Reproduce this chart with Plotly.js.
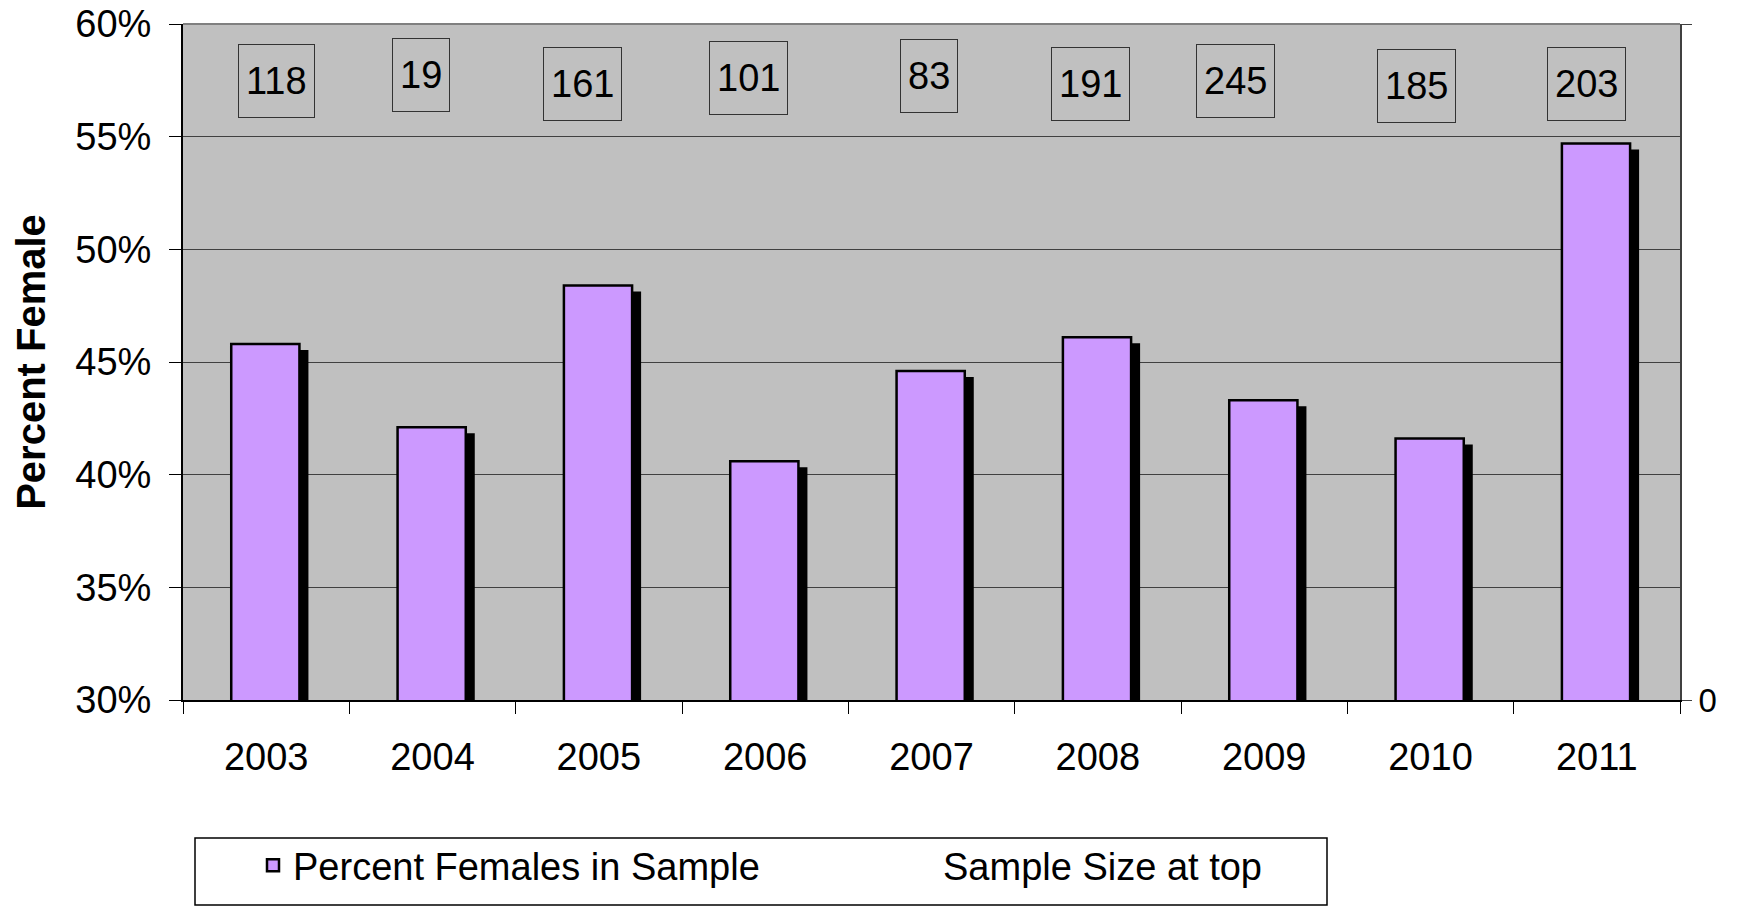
<!DOCTYPE html>
<html><head><meta charset="utf-8">
<script src="https://cdn.plot.ly/plotly-3.0.1.min.js"></script>
<style>html,body{margin:0;padding:0;background:#fff}#chart{width:1738px;height:906px}</style>
</head><body><div id="chart"></div>
<script>
const years = ['2003','2004','2005','2006','2007','2008','2009','2010','2011'];
const pctFemale = [45.8, 42.1, 48.4, 40.6, 44.6, 46.1, 43.3, 41.6, 54.7];
const sampleSizes = [118, 19, 161, 101, 83, 191, 245, 185, 203];
const seriesNames = ['Percent Females in Sample', 'Sample Size at top'];
const yAxisTitle = 'Percent Female';

// label box placement (pixels: shift from category centre, offset from plot top)
const labelShiftX = [10, -12, -16, -17, -3, -7, -29, -14, -10];
const labelShiftY = [-57, -51, -60, -54, -52, -60, -57, -62, -60];

const FONT = 'Liberation Sans, Arial, Helvetica, sans-serif';
const W = 1738, H = 906;
const M = {l: 183, r: 58, t: 24, b: 206};
const plotH = H - M.t - M.b, plotW = W - M.l - M.r;
const yRange = [30, 60];
const shadowDrop = 6 * (yRange[1] - yRange[0]) / plotH;
const barWidth = 0.41, barOffset = -0.21, shadowShift = 9 / (plotW / years.length);

const traces = [
  { type: 'bar', x: years, y: pctFemale.map(v => v - shadowDrop),
    width: barWidth, offset: barOffset + shadowShift,
    marker: {color: '#000000', line: {width: 0}},
    showlegend: false, hoverinfo: 'skip' },
  { type: 'bar', x: years, y: pctFemale, name: seriesNames[0],
    width: barWidth, offset: barOffset,
    marker: {color: '#CC99FF', line: {color: '#000000', width: 2.5}} },
  { type: 'scatter', mode: 'markers', x: years, y: sampleSizes, yaxis: 'y2',
    name: seriesNames[1], marker: {color: 'rgba(0,0,0,0)', size: 1},
    hoverinfo: 'skip' }
];

const annotations = sampleSizes.map((n, i) => ({
  x: i, xref: 'x', y: 1, yref: 'paper',
  xanchor: 'center', yanchor: 'middle',
  xshift: labelShiftX[i], yshift: labelShiftY[i],
  text: String(n), showarrow: false,
  font: {family: FONT, size: 38, color: '#000'},
  bgcolor: '#C0C0C0', bordercolor: '#333333', borderwidth: 1, borderpad: 7,
  height: 58
}));

const layout = {
  width: W, height: H, margin: M,
  paper_bgcolor: '#ffffff', plot_bgcolor: '#C0C0C0',
  font: {family: FONT, size: 38, color: '#000'},
  barmode: 'overlay',
  showlegend: true,
  legend: {
    orientation: 'h', xref: 'container', yref: 'container',
    x: 195 / W, xanchor: 'left', y: 1 - 834 / H, yanchor: 'top',
    borderwidth: 0, bgcolor: 'rgba(0,0,0,0)', indentation: 58,
    entrywidth: 547, entrywidthmode: 'pixels',
    font: {family: FONT, size: 38, color: '#000'}
  },
  xaxis: {
    type: 'category', range: [-0.5, years.length - 0.5], autorange: false,
    tickson: 'boundaries', ticks: 'outside', ticklen: 12, tickangle: 0,
    tickcolor: '#000', tickwidth: 1, showgrid: false,
    showline: true, linecolor: '#000', linewidth: 2,
    ticklabelstandoff: 22, tickfont: {size: 38}
  },
  yaxis: {
    range: yRange, autorange: false, dtick: 5, ticksuffix: '%', ticks: 'outside', ticklen: 12,
    tickcolor: '#000', showgrid: true, gridcolor: '#404040', gridwidth: 1,
    showline: true, linecolor: '#000', linewidth: 2, zeroline: false,
    ticklabelstandoff: 10, tickfont: {size: 38},
    title: {text: yAxisTitle, font: {family: FONT, size: 40, weight: 'bold'}, standoff: 17}
  },
  yaxis2: {
    overlaying: 'y', side: 'right', range: [0, 300], autorange: false,
    tickvals: [0, 300], ticktext: ['0', ''],
    ticks: 'outside', ticklen: 10, tickcolor: '#404040', showgrid: false, zeroline: false,
    showline: true, linecolor: '#404040', linewidth: 2,
    ticklabelstandoff: 0, tickfont: {size: 33}
  },
  shapes: [
    {type: 'line', xref: 'paper', yref: 'paper', x0: 0, x1: 1, y0: 1, y1: 1,
     line: {color: '#808080', width: 2}},
    {type: 'rect', xref: 'paper', yref: 'paper',
     x0: 12 / plotW, x1: 1144 / plotW, y0: -138 / plotH, y1: -205 / plotH,
     line: {color: '#000', width: 1.5}, fillcolor: 'rgba(0,0,0,0)'}
  ],
  annotations: annotations
};

Plotly.newPlot('chart', traces, layout, {displayModeBar: false, responsive: false});
</script>
</body></html>
